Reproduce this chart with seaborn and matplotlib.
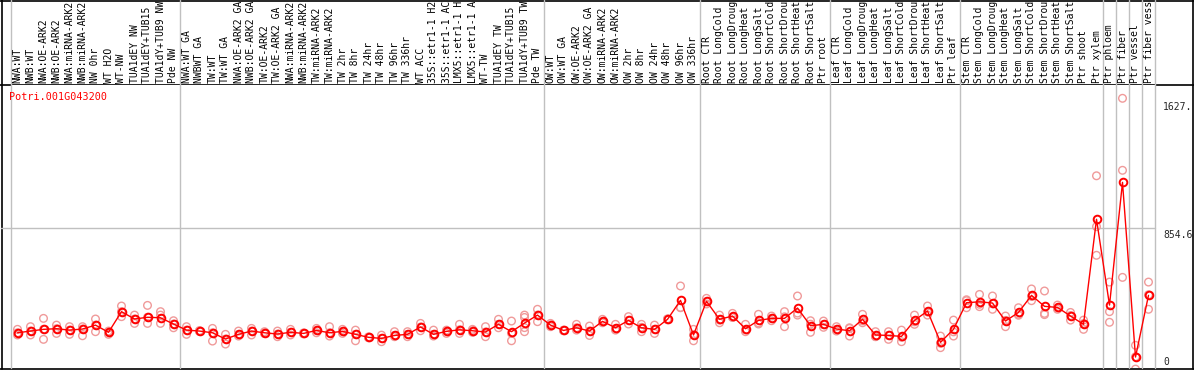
import numpy as np
import pandas as pd
import matplotlib
matplotlib.use("Agg")
import matplotlib.pyplot as plt
import matplotlib.transforms as mtransforms
import seaborn as sns

sns.set_style("white")
plt.rcParams['font.family'] = ['DejaVu Sans Mono']

# sample labels, one per column
samples = [
    # NW group
    "NWA:WT", "NWB:WT", "NWA:OE-ARK2", "NWB:OE-ARK2", "NWA:miRNA-ARK2", "NWB:miRNA-ARK2",
    "NW 0hr", "WT H2O", "WT-NW", "TUA1dEY NW", "TUA1dEY+TUB15 NW", "TUA1dY+TUB9 NW", "Pde NW",
    # TW group
    "NWA:WT GA", "NWBWT GA", "TW:WT", "TW:WT GA", "NWA:OE-ARK2 GA", "NWB:OE-ARK2 GA",
    "TW:OE-ARK2", "TW:OE-ARK2 GA", "NWA:miRNA-ARK2", "NWB:miRNA-ARK2", "TW:miRNA-ARK2",
    "TW:miRNA-ARK2", "TW 2hr", "TW 8hr", "TW 24hr", "TW 48hr", "TW 96hr", "TW 336hr", "WT ACC",
    "35S::etr1-1 H2O", "35S::etr1-1 ACC", "LMX5::etr1-1 H2O", "LMX5::etr1-1 ACC", "WT-TW",
    "TUA1dEY TW", "TUA1dEY+TUB15 TW", "TUA1dY+TUB9 TW", "Pde TW",
    # OW group
    "OW:WT", "OW:WT GA", "OW:OE-ARK2", "OW:OE-ARK2 GA", "OW:miRNA-ARK2", "OW:miRNA-ARK2",
    "OW 2hr", "OW 8hr", "OW 24hr", "OW 48hr", "OW 96hr", "OW 336hr",
    # root
    "Root CTR", "Root LongCold", "Root LongDrought", "Root LongHeat", "Root LongSalt",
    "Root ShortCold", "Root ShortDrought", "Root ShortHeat", "Root ShortSalt", "Ptr root",
    # leaf
    "Leaf CTR", "Leaf LongCold", "Leaf LongDrought", "Leaf LongHeat", "Leaf LongSalt",
    "Leaf ShortCold", "Leaf ShortDrought", "Leaf ShortHeat", "Leaf ShortSalt", "Ptr leaf",
    # stem
    "Stem CTR", "Stem LongCold", "Stem LongDrought", "Stem LongHeat", "Stem LongSalt",
    "Stem ShortCold", "Stem ShortDrought", "Stem ShortHeat", "Stem ShortSalt", "Ptr shoot",
    "Ptr xylem",
    # cell types
    "Ptr phloem", "Ptr fiber", "Ptr vessel", "Ptr fiber vessel",
]

# number of samples in each group (separated by vertical lines)
group_sizes = [13, 28, 12, 10, 10, 11, 1, 1, 1, 1]

# mean expression per sample
means = [
    187, 198, 209, 213, 204, 211, 236, 190, 322, 275, 286, 283, 243, 204, 198, 187, 147, 177,
    198, 187, 179, 190, 183, 202, 187, 196, 177, 158, 151, 170, 177, 224, 177, 196, 206, 200,
    192, 241, 194, 249, 300, 236, 202, 219, 198, 260, 219, 266, 219, 209, 273, 394, 173, 388,
    273, 294, 213, 266, 279, 279, 345, 232, 241, 211, 200, 273, 173, 170, 164, 266, 326, 126,
    209, 379, 385, 377, 262, 317, 426, 356, 349, 294, 241, 912, 364, 1148, 32, 426,
]

# replicate values per sample
replicates = [
    [209, 173, 187], [226, 173, 198], [279, 145, 209], [236, 183, 213], [226, 177, 204],
    [226, 168, 211], [275, 194, 236], [198, 177, 190], [358, 290, 322], [300, 247, 275],
    [362, 247, 286], [322, 300, 247], [264, 219, 243], [226, 177, 204], [198, 195, 201],
    [215, 134, 187], [177, 115, 147], [198, 166, 177], [215, 173, 198], [194, 187, 182],
    [198, 162, 179], [209, 173, 190], [180, 186, 183], [215, 187, 202], [226, 166, 187],
    [209, 183, 196], [204, 136, 177], [155, 161, 158], [172, 130, 151], [194, 162, 170],
    [194, 162, 177], [247, 200, 224], [204, 166, 177], [204, 183, 196], [241, 183, 206],
    [209, 190, 200], [226, 162, 192], [273, 219, 241], [262, 136, 184], [300, 285, 220, 194],
    [337, 258, 300], [247, 226, 236], [204, 200, 202], [241, 204, 219], [230, 198, 170],
    [273, 251, 258], [241, 204, 213], [290, 243, 266], [241, 194, 222], [236, 183, 209],
    [270, 276, 273], [486, 347, 349], [209, 136, 174], [407, 371, 386], [300, 251, 268],
    [311, 285, 286], [241, 194, 205], [305, 243, 250], [294, 264, 279], [322, 226, 289],
    [422, 300, 313], [264, 190, 242], [262, 222, 239], [226, 198, 209], [219, 166, 215],
    [305, 251, 263], [194, 162, 163], [194, 145, 171], [204, 130, 158], [300, 241, 257],
    [358, 300, 320], [166, 92, 120], [268, 166, 193], [392, 347, 398], [432, 354, 369],
    [422, 337, 372], [294, 226, 266], [347, 305, 299], [467, 392, 419], [454, 311, 303],
    [364, 337, 346], [317, 268, 297], [268, 209, 246], [1190, 865, 682], [511, 322, 254],
    [1685, 1225, 541], [107, -45, 34], [511, 337, 430],
]

gene = "Potri.001G043200"
tick_values = [0, 854.6, 1627.3]
tick_text = ["0", "854.6", "1627."]

W, H = 1194, 370
fig = plt.figure(figsize=(W / 100, H / 100), dpi=100)

# pixel layout of the plotting box
x0, x1 = 11, 1155
y_top, y_bot = 85, 368
ax = fig.add_axes([x0 / W, (H - y_bot) / H, (x1 - x0) / W, (y_bot - y_top) / H])

xpos = np.arange(len(samples)) + 0.5
rep_df = pd.DataFrame(
    [(xpos[i], v) for i, vals in enumerate(replicates) for v in vals],
    columns=["x", "value"],
)
mean_df = pd.DataFrame({"x": xpos, "value": means})

grid_c = "#c0c0c0"

# group separators run through the label strip too
bounds = np.concatenate([[0], np.cumsum(group_sizes)])
for b in bounds:
    ax.axvline(b, ymin=0, ymax=y_bot / (y_bot - y_top), color=grid_c, lw=1,
               clip_on=False, zorder=0)
ax.axhline(854.6, xmin=-(x0 - 1) / (x1 - x0), xmax=1, color=grid_c, lw=1,
           clip_on=False, zorder=0)

sns.scatterplot(data=rep_df, x="x", y="value", ax=ax, marker="o", s=30,
                facecolor="none", edgecolor="#f09a9a", linewidth=1, zorder=2)
sns.lineplot(data=mean_df, x="x", y="value", ax=ax, color="red", lw=1,
             marker="o", markersize=5.5, markerfacecolor="none",
             markeredgecolor="red", markeredgewidth=1.4, zorder=3)

ax.set_xlim(0, len(samples))
ax.set_ylim(-38, 1770)
ax.set_xticks([])
ax.set_yticks([])
ax.set_xlabel("")
ax.set_ylabel("")
for sp in ax.spines.values():
    sp.set_visible(False)

# rotated sample names above the plot (the strip only holds 14 characters)
trans = mtransforms.blended_transform_factory(ax.transData, ax.transAxes)
for x, name in zip(xpos, samples):
    ax.text(x, 1.007, name[:14], rotation=90, ha="center", va="bottom", fontsize=7,
            color="black", transform=trans, clip_on=False)

ax.text(-0.0017, 0.957, gene, color="red", fontsize=7.3, ha="left", va="center",
        transform=ax.transAxes)

# value labels on the right
ytrans = mtransforms.blended_transform_factory(ax.transAxes, ax.transData)
for v, t in zip(tick_values, tick_text):
    va = "top" if t == "854.6" else "center"
    ax.text((1163 - x0) / (x1 - x0), v - (12 if va == "top" else 0), t, fontsize=7,
            ha="left", va=va, transform=ytrans, clip_on=False)

# black outer frame and divider between labels and plot
frame = fig.add_axes([0, 0, 1, 1], zorder=-1)
frame.set_xlim(0, W)
frame.set_ylim(H, 0)
frame.axis("off")
frame.plot([1.5, 1.5], [0, 369], color="black", lw=1.2)
frame.plot([W - 1.5, W - 1.5], [0, 369], color="black", lw=1.2)
frame.plot([0, W], [0.6, 0.6], color="black", lw=1.2)
frame.plot([0, W], [y_top, y_top], color="black", lw=1.2)
frame.plot([0, W], [368.8, 368.8], color="black", lw=1.2)

fig.savefig("out.png", dpi=100)
